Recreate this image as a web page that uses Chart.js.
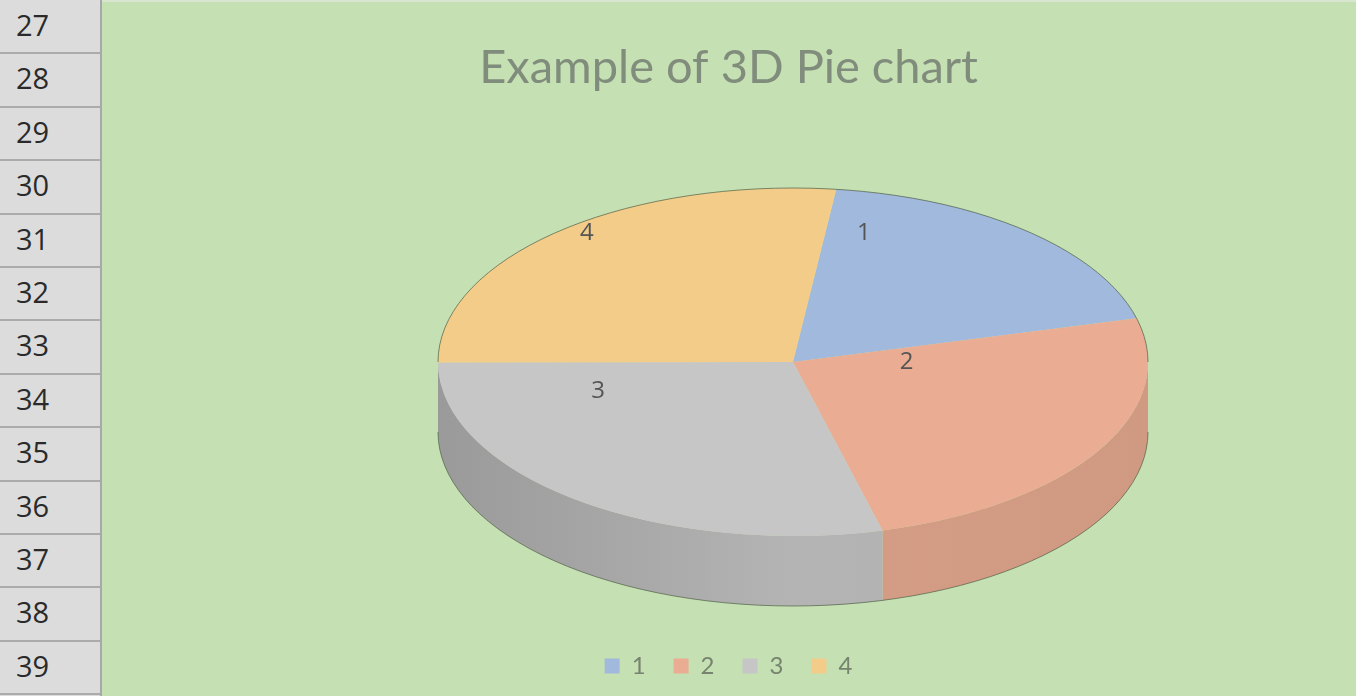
<!DOCTYPE html>
<html>
<head>
<meta charset="utf-8">
<script src="https://cdn.jsdelivr.net/npm/chart.js@4"></script>
<style>
  html, body { margin: 0; padding: 0; width: 1356px; height: 696px; overflow: hidden; background: #dcdcdc; }
  #rows { position: absolute; left: 0; top: 0; width: 100px; height: 696px; background: #dcdcdc; border-right: 2px solid #a8a8a8; }
  .row { position: absolute; left: 0; width: 100px; box-sizing: border-box; border-bottom: 2px solid #ababab;
         font-family: "Open Sans", sans-serif; font-size: 29px; color: #2a2a2a; padding-left: 16px; }
  #sheet { position: absolute; left: 102px; top: 0; width: 1254px; height: 696px; background: #c5e0b2; border-top: 2px solid #d8e6cf; box-sizing: border-box; }
  #wrap { position: absolute; left: 101px; top: 0; width: 1255px; height: 696px; }
</style>
</head>
<body>
<div id="rows"></div>
<div id="sheet"></div>
<div id="wrap"><canvas id="c" width="1255" height="696"></canvas></div>
<script>
// ---- data ----
const rowNumbers = [27, 28, 29, 30, 31, 32, 33, 34, 35, 36, 37, 38, 39];
const categories = ['1', '2', '3', '4'];
const values = [19, 25, 29, 27];
const chartTitle = 'Example of 3D Pie chart';

// ---- styles ----
const sliceColors = ['#a0b9dc', '#eaac92', '#c6c6c6', '#f2cc88'];
const rowH = 53.4;

// spreadsheet row headers
const rowsDiv = document.getElementById('rows');
rowNumbers.forEach((n, i) => {
  const d = document.createElement('div');
  d.className = 'row';
  d.style.top = (i * rowH + 1) + 'px';
  d.style.height = rowH + 'px';
  d.style.lineHeight = (rowH - 5) + 'px';
  d.textContent = n;
  rowsDiv.appendChild(d);
});

// geometry of the projected 3D pie (canvas coordinates)
const G = { cx: 692, cy: 362, a: 355, b: 174, depth: 70, labelFrac: 0.59, labelDx: -67, labelDy: -52 };

function hexToRgb(h) {
  const v = parseInt(h.slice(1), 16);
  return [(v >> 16) & 255, (v >> 8) & 255, v & 255];
}
function shade(h, f) {
  const [r, g, b] = hexToRgb(h);
  return `rgb(${Math.round(r * f)},${Math.round(g * f)},${Math.round(b * f)})`;
}

const pie3d = {
  id: 'pie3d',
  beforeDatasetsDraw(chart) {
    const ctx = chart.ctx;
    const meta = chart.getDatasetMeta(0);
    const a0 = meta.data[0];
    const R = a0.outerRadius;
    // side walls (front half only, angles 0..PI)
    ctx.save();
    meta.data.forEach((arc, i) => {
      const s = Math.max(arc.startAngle, 0);
      const e = Math.min(arc.endAngle, Math.PI);
      if (e <= s) return;
      const col = chart.data.datasets[0].backgroundColor[i];
      const grad = ctx.createLinearGradient(G.cx - G.a, 0, G.cx + G.a, 0);
      grad.addColorStop(0, shade(col, 0.78));
      grad.addColorStop(0.5, shade(col, 0.91));
      grad.addColorStop(1, shade(col, 0.89));
      ctx.beginPath();
      ctx.ellipse(G.cx, G.cy, G.a, G.b, 0, s, e, false);
      ctx.ellipse(G.cx, G.cy + G.depth, G.a, G.b, 0, e, s, true);
      ctx.closePath();
      ctx.fillStyle = grad;
      ctx.fill();
    });
    // silhouette outline
    ctx.beginPath();
    ctx.ellipse(G.cx, G.cy + G.depth, G.a, G.b, 0, 0, Math.PI, false);
    ctx.strokeStyle = 'rgba(80,95,70,0.7)';
    ctx.lineWidth = 1;
    ctx.stroke();
    ctx.restore();

    // transform the flat pie into the top ellipse
    ctx.save();
    ctx.translate(G.cx, G.cy);
    ctx.scale(G.a / R, G.b / R);
    ctx.translate(-a0.x, -a0.y);
  },
  afterDatasetsDraw(chart) {
    const ctx = chart.ctx;
    ctx.restore();
    const meta = chart.getDatasetMeta(0);
    ctx.save();
    // back rim outline
    ctx.beginPath();
    ctx.ellipse(G.cx, G.cy, G.a, G.b, 0, Math.PI, 2 * Math.PI, false);
    ctx.strokeStyle = 'rgba(80,95,70,0.7)';
    ctx.lineWidth = 1;
    ctx.stroke();
    // data labels
    ctx.font = '24px "Open Sans", sans-serif';
    ctx.fillStyle = '#555555';
    ctx.textAlign = 'center';
    ctx.textBaseline = 'middle';
    meta.data.forEach((arc, i) => {
      const mid = (arc.startAngle + arc.endAngle) / 2;
      const x = G.cx + G.labelDx + G.a * G.labelFrac * Math.cos(mid);
      const y = G.cy + G.labelDy + G.b * G.labelFrac * Math.sin(mid);
      ctx.fillText(chart.data.labels[i], x, y);
    });
    ctx.restore();
  }
};

new Chart(document.getElementById('c'), {
  type: 'pie',
  data: {
    labels: categories,
    datasets: [{
      data: values,
      backgroundColor: sliceColors,
      borderWidth: 0
    }]
  },
  options: {
    responsive: false,
    animation: false,
    rotation: 7,
    layout: { padding: { top: 0, bottom: 8, left: 0, right: 0 } },
    plugins: {
      tooltip: { enabled: false },
      title: {
        display: true,
        text: chartTitle,
        color: '#808c7c',
        font: { family: 'Lato', size: 47, weight: 'normal' },
        padding: { top: 40, bottom: 17 }
      },
      legend: {
        position: 'bottom',
        labels: {
          color: '#76846f',
          font: { family: 'Lato', size: 24 },
          boxWidth: 15,
          boxHeight: 15,
          padding: 28
        }
      }
    }
  },
  plugins: [pie3d]
});
</script>
</body>
</html>
